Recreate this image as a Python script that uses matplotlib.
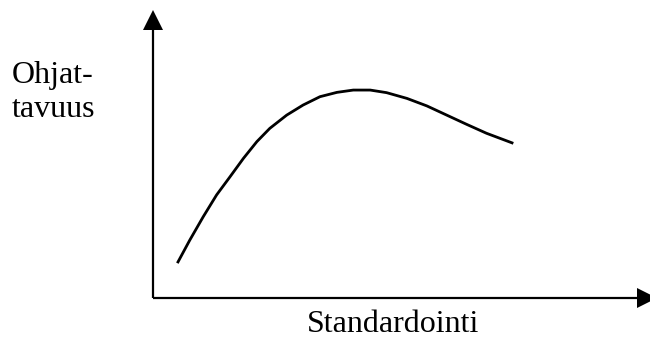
import matplotlib
matplotlib.use("Agg")
import matplotlib.pyplot as plt

# Schematic curve: controllability (Ohjattavuus) vs standardisation (Standardointi)
standardointi = [4.9, 7.4, 10.1, 12.8, 15.5, 18.2, 20.9, 23.5, 26.9, 30.2, 33.6,
                 37.0, 40.3, 43.7, 47.0, 51.1, 55.1, 59.1, 63.1, 67.1, 72.5]
ohjattavuus = [12.1, 20.1, 28.2, 35.8, 42.1, 48.5, 54.3, 58.9, 63.5, 67.0, 69.9,
               71.4, 72.2, 72.2, 71.3, 69.3, 66.7, 63.5, 60.3, 57.2, 53.7]

x_label = "Standardointi"
y_label_lines = ["Ohjat-", "tavuus"]

W, H = 650, 340
fig = plt.figure(figsize=(W / 100, H / 100), dpi=100)

# axes box in pixels: origin (153, 298), x tip 657, y tip 10
x0, y0, x1, y1 = 153, 298, 657, 10
ax = fig.add_axes([x0 / W, (H - y0) / H, (x1 - x0) / W, (y0 - y1) / H])
ax.set_xlim(0, 100 * (x1 - x0) / 497)
ax.set_ylim(0, 100)
ax.set_axis_off()

ax.plot(standardointi, ohjattavuus, color="black", lw=2.0,
        solid_capstyle="butt", solid_joinstyle="round")

# axis lines with arrow heads
axh = (y0 - y1)
axw = (x1 - x0)
head = 20
ax.plot([0, 0], [0, 1 - (head - 2) / axh], color="black", lw=1.6,
        transform=ax.transAxes, clip_on=False, solid_capstyle="butt")
ax.plot([0, 1 - (head - 2) / axw], [0, 0], color="black", lw=1.6,
        transform=ax.transAxes, clip_on=False, solid_capstyle="butt")
ms = head * 72 / 100
ax.plot([0], [1 - (head / 2) / axh], marker="^", ms=ms, color="black",
        transform=ax.transAxes, clip_on=False, markeredgewidth=0)
ax.plot([1 - (head / 2) / axw], [0], marker=">", ms=ms, color="black",
        transform=ax.transAxes, clip_on=False, markeredgewidth=0)

font = dict(family="Liberation Serif", size=23, color="black")
fig.text(12 / W, (H - 83) / H, y_label_lines[0], va="baseline", ha="left", **font)
fig.text(12 / W, (H - 117) / H, y_label_lines[1], va="baseline", ha="left", **font)
fig.text(307 / W, (H - 332) / H, x_label, va="baseline", ha="left", **font)

fig.savefig("out.png", dpi=100)
